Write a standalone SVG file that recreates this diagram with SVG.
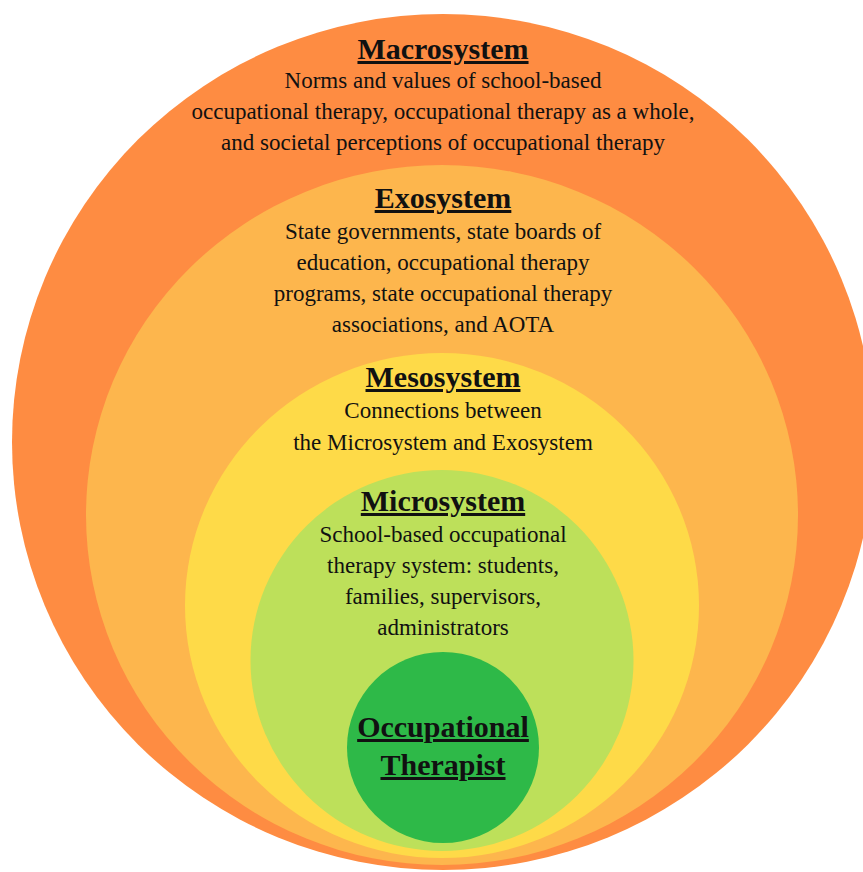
<svg xmlns="http://www.w3.org/2000/svg" width="863" height="872" viewBox="0 0 863 872">
  <style>
    .title { font-family: "Liberation Serif", "Times New Roman", serif; font-weight: bold; font-size: 30px; fill: #111; text-anchor: middle; text-decoration: underline; }
    .body { font-family: "Liberation Serif", "Times New Roman", serif; font-size: 23px; fill: #111; text-anchor: middle; }
  </style>
  <rect width="863" height="872" fill="#ffffff"/>

  <g id="macrosystem">
    <ellipse cx="443" cy="442" rx="431" ry="428" fill="#FE8C42"/>
    <text class="title" x="443" y="59">Macrosystem</text>
    <text class="body" x="443" y="88">Norms and values of school-based</text>
    <text class="body" x="443" y="119">occupational therapy, occupational therapy as a whole,</text>
    <text class="body" x="443" y="150">and societal perceptions of occupational therapy</text>
  </g>

  <g id="exosystem">
    <ellipse cx="442" cy="515" rx="356" ry="350" fill="#FDB64D"/>
    <text class="title" x="443" y="208">Exosystem</text>
    <text class="body" x="443" y="239">State governments, state boards of</text>
    <text class="body" x="443" y="270">education, occupational therapy</text>
    <text class="body" x="443" y="301">programs, state occupational therapy</text>
    <text class="body" x="443" y="332">associations, and AOTA</text>
  </g>

  <g id="mesosystem">
    <ellipse cx="442" cy="605.5" rx="257" ry="252.5" fill="#FEDA48"/>
    <text class="title" x="443" y="387">Mesosystem</text>
    <text class="body" x="443" y="418">Connections between</text>
    <text class="body" x="443" y="450">the Microsystem and Exosystem</text>
  </g>

  <g id="microsystem">
    <ellipse cx="442" cy="660.5" rx="191.5" ry="190.5" fill="#BDE05A"/>
    <text class="title" x="443" y="511">Microsystem</text>
    <text class="body" x="443" y="542">School-based occupational</text>
    <text class="body" x="443" y="573">therapy system: students,</text>
    <text class="body" x="443" y="604">families, supervisors,</text>
    <text class="body" x="443" y="635">administrators</text>
  </g>

  <g id="occupational-therapist">
    <ellipse cx="443" cy="747.5" rx="96" ry="95.5" fill="#2EB948"/>
    <text class="title" x="443" y="737">Occupational</text>
    <text class="title" x="443" y="775">Therapist</text>
  </g>
</svg>
